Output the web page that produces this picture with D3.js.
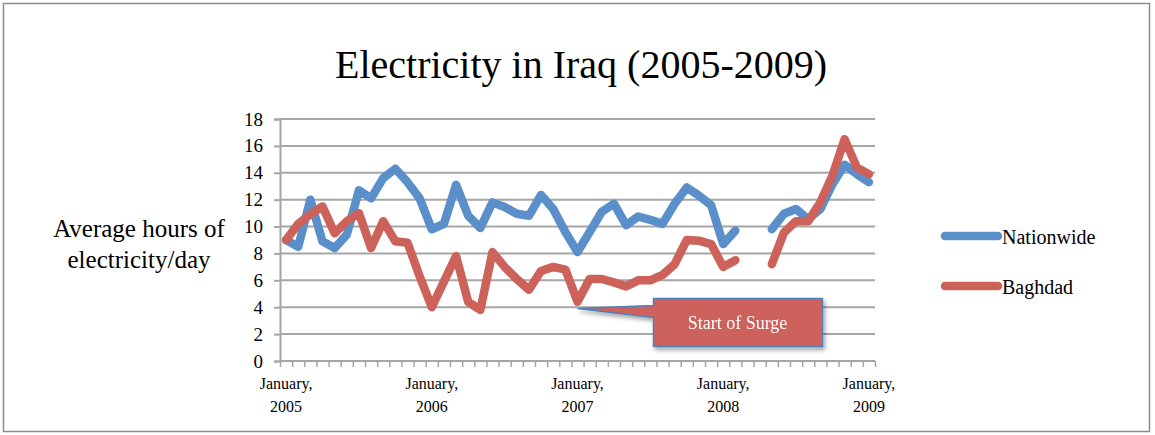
<!DOCTYPE html>
<html>
<head>
<meta charset="utf-8">
<script src="https://cdnjs.cloudflare.com/ajax/libs/d3/7.8.5/d3.min.js"></script>
<style>
  body { margin: 0; background: #fff; }
  text { font-family: "Liberation Serif", "DejaVu Serif", serif; fill: #000; }
</style>
</head>
<body>
<svg></svg>
<script>
var width = 1155;
var height = 435;

// monthly averages, Jan 2005 .. Jan 2009 (null = no data)
var nationwide = [
  9.0, 8.5, 12.0, 8.9, 8.4, 9.4, 12.7, 12.1, 13.6, 14.3, 13.3, 12.1,
  9.8, 10.2, 13.1, 10.8, 9.9, 11.8, 11.45, 10.95, 10.8, 12.35, 11.3, 9.6,
  8.1, 9.6, 11.1, 11.7, 10.1, 10.75, 10.5, 10.2, 11.7, 12.9, 12.3, 11.6,
  8.7, 9.7, null, null, 9.8, 10.95, 11.3, 10.55, 11.3, 13.15, 14.6, 13.9,
  13.3
];
var baghdad = [
  9.0, 10.2, 10.9, 11.5, 9.5, 10.4, 11.0, 8.4, 10.4, 8.9, 8.8, 6.3,
  4.0, 5.9, 7.8, 4.4, 3.8, 8.1, 7.0, 6.1, 5.3, 6.7, 7.0, 6.8,
  4.4, 6.1, 6.1, 5.85, 5.55, 6.0, 6.0, 6.4, 7.2, 9.0, 8.95, 8.7,
  7.0, 7.5, null, null, 7.2, 9.55, 10.4, 10.4, 11.8, 13.8, 16.5, 14.4,
  13.9
];
var months = d3.timeMonth.range(new Date(2005, 0, 1), new Date(2009, 1, 1));
var yTicks = [0, 2, 4, 6, 8, 10, 12, 14, 16, 18];
var xTickIndex = [0, 12, 24, 36, 48];
var xTickLabels = [["January,", "2005"], ["January,", "2006"], ["January,", "2007"], ["January,", "2008"], ["January,", "2009"]];
var seriesNames = ["Nationwide", "Baghdad"];
var seriesColors = ["#5a8fca", "#cd625b"];
var surgeIndex = 24, surgeValue = 3.9, surgeText = "Start of Surge";

var svg = d3.select("svg")
            .attr("width", width)
            .attr("height", height);

var defs = svg.append("defs");
var shadow = defs.append("filter").attr("id", "shadow")
    .attr("x", "-20%").attr("y", "-20%").attr("width", "140%").attr("height", "160%");
shadow.append("feDropShadow")
    .attr("dx", 2).attr("dy", 3).attr("stdDeviation", 2)
    .attr("flood-color", "#000").attr("flood-opacity", 0.35);

// outer frame
svg.append("rect")
    .attr("x", 3.5).attr("y", 3.5)
    .attr("width", 1146).attr("height", 428)
    .attr("fill", "none").attr("stroke", "#8c8c8c").attr("stroke-width", 1.5);

svg.append("text")
    .attr("x", 581).attr("y", 78)
    .style("font-size", "40px")
    .style("text-anchor", "middle")
    .text("Electricity in Iraq (2005-2009)");

var x = d3.scaleBand()
          .domain(d3.range(months.length))
          .range([280, 875]);
var xEdge = d3.scaleLinear()
          .domain([0, months.length])
          .range([280, 875]);
var y = d3.scaleLinear()
          .domain([0, 18])
          .range([361, 119]);

// gridlines + y axis
var yAxis = svg.append("g")
    .attr("transform", "translate(280,0)")
    .call(d3.axisLeft(y).tickValues(yTicks).tickSize(6).tickPadding(11));
yAxis.select(".domain").attr("stroke", "#a6a6a6").attr("stroke-width", 2);
yAxis.selectAll(".tick line").attr("stroke", "#a6a6a6").attr("stroke-width", 2);
yAxis.selectAll(".tick text")
    .style("font-family", "Liberation Serif")
    .style("font-size", "19px");

svg.append("g")
    .selectAll("line")
    .data(yTicks.filter(d => d > 0))
    .join("line")
        .attr("x1", 280).attr("x2", 875)
        .attr("y1", d => y(d)).attr("y2", d => y(d))
        .attr("stroke", "#a6a6a6").attr("stroke-width", 2);

var xAxis = svg.append("g")
    .attr("transform", "translate(0,361)")
    .call(d3.axisBottom(xEdge).tickValues(d3.range(months.length + 1)).tickSize(6).tickFormat(""));
xAxis.select(".domain").attr("stroke", "#a6a6a6").attr("stroke-width", 2).attr("d", "M280,0H875");
xAxis.selectAll(".tick line").attr("stroke", "#a6a6a6").attr("stroke-width", 1.5);

var xLabels = svg.append("g")
    .selectAll("text")
    .data(xTickIndex)
    .join("text")
        .attr("x", d => x(d) + x.bandwidth() / 2)
        .attr("y", 389)
        .style("font-size", "16px")
        .style("text-anchor", "middle");
xLabels.each(function(d, i) {
    var t = d3.select(this);
    t.append("tspan").attr("x", x(d) + x.bandwidth() / 2).text(xTickLabels[i][0]);
    t.append("tspan").attr("x", x(d) + x.bandwidth() / 2).attr("dy", 23).text(xTickLabels[i][1]);
});

// axis title
var yTitle = svg.append("text")
    .attr("x", 139).attr("y", 237)
    .style("font-size", "25px")
    .style("text-anchor", "middle");
yTitle.append("tspan").attr("x", 139).text("Average hours of");
yTitle.append("tspan").attr("x", 139).attr("dy", 31).text("electricity/day");

var line = d3.line()
    .defined(d => d != null)
    .x((d, i) => x(i) + x.bandwidth() / 2)
    .y(d => y(d));

svg.append("g")
    .selectAll("path")
    .data([nationwide, baghdad])
    .join("path")
        .attr("d", line)
        .attr("fill", "none")
        .attr("stroke", (d, i) => seriesColors[i])
        .attr("stroke-width", 8.5)
        .attr("stroke-linejoin", "round")
        .attr("stroke-linecap", "round");

// callout
var tipX = x(surgeIndex) + x.bandwidth() / 2;
var tipY = y(surgeValue);
var callout = svg.append("g").attr("filter", "url(#shadow)");
callout.append("path")
    .attr("d", "M" + tipX + "," + tipY +
               "L" + (tipX + 76) + "," + (tipY - 3) +
               "V" + (tipY - 10) + "H" + (tipX + 245) +
               "V" + (tipY + 38) + "H" + (tipX + 76) +
               "V" + (tipY + 9) + "Z")
    .attr("fill", "#cd625b")
    .attr("stroke", "#4f81bd")
    .attr("stroke-width", 1.5);
callout.append("text")
    .attr("x", tipX + 160).attr("y", tipY + 20)
    .style("font-size", "18px")
    .style("fill", "#fff")
    .style("text-anchor", "middle")
    .text(surgeText);

// legend
var legend = svg.append("g")
    .selectAll("g")
    .data(seriesNames)
    .join("g")
        .attr("transform", (d, i) => "translate(0," + (236 + i * 50) + ")");
legend.append("line")
    .attr("x1", 945).attr("x2", 998)
    .attr("stroke", (d, i) => seriesColors[i])
    .attr("stroke-width", 8.5)
    .attr("stroke-linecap", "round");
legend.append("text")
    .attr("x", 1002).attr("y", 8)
    .style("font-size", "20px")
    .text(d => d);
</script>
</body>
</html>
